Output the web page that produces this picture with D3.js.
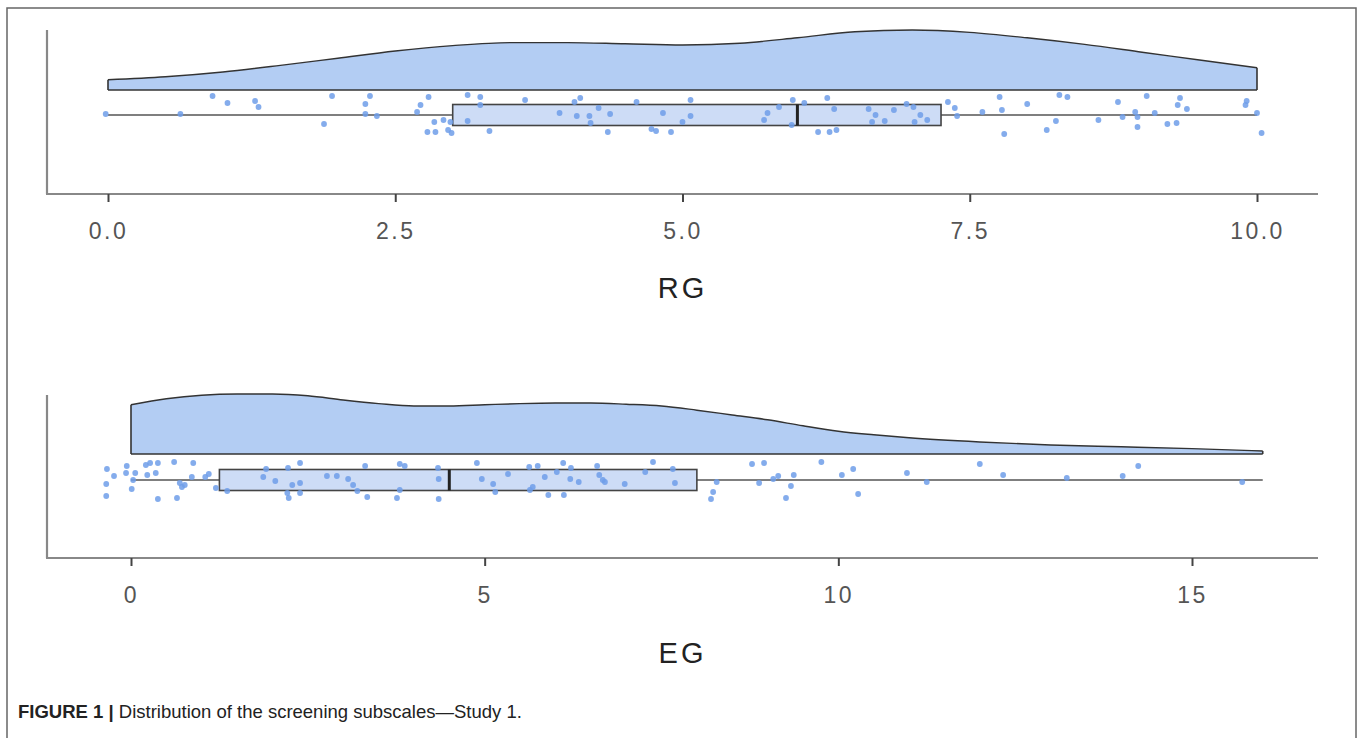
<!DOCTYPE html>
<html><head><meta charset="utf-8">
<script src="https://cdn.jsdelivr.net/npm/d3@7"></script>
<style>body{margin:0;background:#fff}svg{display:block}</style>
</head><body>
<script>
// ---------- DATA ----------
const rgTicks = [0, 2.5, 5, 7.5, 10];
const rgTickLabels = ["0.0", "2.5", "5.0", "7.5", "10.0"];
const rgDensityX = [0,0.5,1,1.5,2,2.5,3,3.5,4,4.5,5,5.5,6,6.5,7,7.5,8,8.5,9,9.5,10];
const rgDensity  = [0.17,0.22,0.30,0.41,0.53,0.65,0.74,0.79,0.79,0.77,0.75,0.78,0.87,0.97,1.0,0.96,0.87,0.76,0.63,0.5,0.37];
const rgBox = {min:0, q1:3.0, median:6.0, q3:7.25, max:10};
const rgValues = [-0.02,0.63,0.91,1.04,1.28,1.31,1.95,1.88,2.28,2.24,2.24,2.34,2.79,2.72,2.69,2.84,2.92,2.78,2.85,2.96,2.99,2.98,3.13,3.24,3.24,3.13,3.32,3.63,3.93,4.06,4.11,4.08,4.19,4.20,4.27,4.37,4.35,4.60,4.73,4.77,4.90,4.83,5.07,5.07,5.00,5.74,5.71,5.84,5.96,6.06,5.95,6.18,6.28,6.34,6.26,6.32,6.62,6.68,6.65,6.76,6.84,6.95,7.01,7.02,7.07,7.13,7.31,7.37,7.39,7.61,7.76,7.78,7.80,8.00,8.17,8.25,8.28,8.35,8.62,8.79,8.83,8.94,8.96,8.96,9.04,9.11,9.22,9.30,9.33,9.31,9.39,9.91,9.90,10.0,10.04];
const rgJitter = [-0.05,-0.05,-0.95,-0.6,-0.7,-0.4,-0.95,0.45,-0.95,-0.55,-0.05,0.05,-0.9,-0.5,-0.15,0.35,0.25,0.85,0.85,0.75,0.9,0.35,-1.0,-0.9,-0.5,0.3,0.8,-0.75,-0.1,-0.65,-0.85,0.05,0.05,0.4,-0.35,-0.05,0.85,-0.65,0.7,0.8,0.85,-0.1,-0.75,0.05,0.35,-0.1,0.25,-0.4,-0.75,-0.6,0.5,0.85,0.85,0.75,-0.85,-0.3,-0.3,0.0,0.35,0.3,-0.25,-0.55,-0.4,0.35,0.0,0.25,-0.65,-0.35,0.05,-0.15,-0.9,-0.25,0.95,-0.55,0.75,0.3,-1.0,-0.9,0.25,-0.65,0.1,-0.15,0.1,0.6,-0.95,-0.1,0.45,0.4,-0.85,-0.5,-0.3,-0.7,-0.5,-0.1,0.9];
const egTicks = [0, 5, 10, 15];
const egTickLabels = ["0", "5", "10", "15"];
const egDensityX = [0,0.5,1,1.5,2,2.5,3,3.5,4,4.5,5,5.5,6,6.5,7,7.5,8,8.5,9,9.5,10,10.5,11,12,13,14,15,16];
const egDensity  = [0.82,0.92,0.98,1.0,1.0,0.97,0.90,0.84,0.80,0.80,0.82,0.84,0.85,0.85,0.83,0.80,0.73,0.65,0.57,0.47,0.38,0.32,0.27,0.20,0.15,0.12,0.09,0.05];
const egBox = {min:0, q1:1.25, median:4.5, q3:8.0, max:16};
const egValues = [-0.34,-0.24,-0.35,-0.35,-0.06,-0.07,0.06,0.03,0.01,0.21,0.27,0.38,0.23,0.35,0.61,0.88,0.86,0.69,0.76,0.72,1.05,1.10,0.38,0.65,1.20,1.36,1.87,1.91,2.04,2.22,2.39,2.28,2.39,2.21,2.23,2.39,2.77,2.91,3.07,3.14,3.20,3.34,3.31,3.80,3.87,3.80,3.76,4.34,4.35,4.35,4.89,4.96,5.12,5.15,5.33,5.63,5.75,5.64,5.68,5.90,5.85,6.02,6.11,6.22,6.21,6.33,6.12,6.59,6.62,6.67,6.70,6.98,7.27,7.38,7.66,7.69,8.28,8.23,8.20,8.78,8.95,8.88,9.08,9.15,9.33,9.37,9.26,9.76,10.05,10.21,10.28,10.97,11.25,12.00,12.33,13.23,14.02,14.24,15.71];
const egJitter = [-0.55,-0.2,0.2,0.8,-0.7,-0.35,-0.35,0.0,0.45,-0.75,-0.85,-0.85,-0.25,-0.35,-0.9,-0.85,-0.15,0.15,0.25,0.35,-0.15,-0.3,0.95,0.9,0.4,0.55,-0.15,-0.55,0.05,-0.6,-0.85,0.25,0.15,0.65,0.9,0.65,-0.2,-0.2,-0.05,0.25,0.55,0.85,-0.7,-0.8,-0.7,0.5,0.9,-0.6,-0.05,0.95,-0.85,-0.05,0.2,0.6,-0.3,-0.65,-0.7,0.5,0.35,0.75,-0.15,-0.4,-0.85,-0.6,-0.05,0.1,0.75,-0.7,-0.25,0.0,0.1,0.2,-0.4,-0.9,-0.55,0.15,0.1,0.6,0.95,-0.8,-0.85,0.15,-0.05,-0.2,0.3,-0.25,0.9,-0.9,-0.25,-0.55,0.7,-0.35,0.1,-0.8,-0.25,-0.1,-0.2,-0.7,0.1];
const captionBold = "FIGURE 1 |";
const captionText = " Distribution of the screening subscales\u2014Study 1.";

// ---------- DRAW ----------
const W = 1358, H = 738;
const svg = d3.select("body").append("svg").attr("width", W).attr("height", H);
svg.append("rect").attr("x", 7).attr("y", 8).attr("width", 1349).attr("height", 760)
  .attr("fill", "none").attr("stroke", "#666").attr("stroke-width", 1.5);

const fontTick = "Liberation Sans, Arial, sans-serif";

function panel(cfg) {
  const g = svg.append("g");
  const x = d3.scaleLinear().domain(cfg.domainRef).range(cfg.rangeRef);
  const yDen = d3.scaleLinear().domain([0, 1]).range([cfg.base, cfg.base - 60]);
  const yJit = d3.scaleLinear().domain([-1, 1]).range([cfg.center - 20, cfg.center + 20]);

  // density
  const pts = cfg.dx.map((v, i) => [v, cfg.dy[i]]);
  const area = d3.area().x(d => x(d[0])).y0(yDen(0)).y1(d => yDen(d[1])).curve(d3.curveMonotoneX);
  g.append("path").datum(pts).attr("d", area).attr("fill", "#b3cdf3").attr("stroke", "none");
  const outline = d3.line().x(d => x(d[0])).y(d => yDen(d[1])).curve(d3.curveMonotoneX);
  g.append("path").datum(pts).attr("d", outline).attr("fill", "none").attr("stroke", "#333").attr("stroke-width", 1.4);
  g.append("line").attr("x1", x(cfg.dx[0])).attr("x2", x(cfg.dx[cfg.dx.length-1]))
    .attr("y1", yDen(0)).attr("y2", yDen(0)).attr("stroke", "#333").attr("stroke-width", 1.6);
  g.append("line").attr("x1", x(cfg.dx[0])).attr("x2", x(cfg.dx[0]))
    .attr("y1", yDen(0)).attr("y2", yDen(cfg.dy[0])).attr("stroke", "#333").attr("stroke-width", 1.6);
  const li = cfg.dx.length - 1;
  g.append("line").attr("x1", x(cfg.dx[li])).attr("x2", x(cfg.dx[li]))
    .attr("y1", yDen(0)).attr("y2", yDen(cfg.dy[li])).attr("stroke", "#333").attr("stroke-width", 1.6);

  // whisker
  g.append("line").attr("x1", x(cfg.box.min)).attr("x2", x(cfg.box.max))
    .attr("y1", cfg.center).attr("y2", cfg.center).attr("stroke", "#555").attr("stroke-width", 1.6);
  // box
  g.append("rect").attr("x", x(cfg.box.q1)).attr("y", cfg.center - 10.5)
    .attr("width", x(cfg.box.q3) - x(cfg.box.q1)).attr("height", 21)
    .attr("fill", "#cddcf6").attr("stroke", "#444").attr("stroke-width", 1.6);
  g.append("line").attr("x1", x(cfg.box.median)).attr("x2", x(cfg.box.median))
    .attr("y1", cfg.center - 10.5).attr("y2", cfg.center + 10.5).attr("stroke", "#222").attr("stroke-width", 3);

  // points
  g.selectAll("circle.pt").data(cfg.values).join("circle").attr("class", "pt")
    .attr("cx", d => x(d)).attr("cy", (d, i) => yJit(cfg.jitter[i])).attr("r", 2.9)
    .attr("fill", "#6f9de9").attr("fill-opacity", 0.85);

  // axes frame
  g.append("line").attr("x1", 47).attr("x2", 47).attr("y1", cfg.axisTop).attr("y2", cfg.axisY)
    .attr("stroke", "#888").attr("stroke-width", 2.2);
  g.append("line").attr("x1", 46).attr("x2", 1318).attr("y1", cfg.axisY).attr("y2", cfg.axisY)
    .attr("stroke", "#888").attr("stroke-width", 2.2);

  const axis = d3.axisBottom(x).tickValues(cfg.ticks).tickFormat((d, i) => cfg.tickLabels[i])
    .tickSize(8).tickPadding(21);
  const ag = g.append("g").attr("transform", `translate(0,${cfg.axisY})`).call(axis);
  ag.select(".domain").remove();
  ag.selectAll(".tick line").attr("stroke", "#444").attr("stroke-width", 2);
  ag.selectAll(".tick text").attr("fill", "#555").attr("font-size", 23)
    .attr("letter-spacing", 2.5).attr("font-family", fontTick);

  g.append("text").attr("x", (47 + 1318) / 2).attr("y", cfg.titleY).attr("text-anchor", "middle")
    .attr("font-family", fontTick).attr("font-size", 29).attr("letter-spacing", 3)
    .attr("fill", "#222").text(cfg.title);
}

panel({domainRef:[0,10], rangeRef:[108,1257], base:90, center:115, axisTop:30, axisY:194,
  dx: rgDensityX, dy: rgDensity, box: rgBox, values: rgValues, jitter: rgJitter,
  ticks: rgTicks, tickLabels: rgTickLabels, title: "RG", titleY: 298});
panel({domainRef:[0,15], rangeRef:[131,1192], base:454, center:480, axisTop:395, axisY:558,
  dx: egDensityX, dy: egDensity, box: egBox, values: egValues, jitter: egJitter,
  ticks: egTicks, tickLabels: egTickLabels, title: "EG", titleY: 663});

const cap = svg.append("text").attr("x", 18).attr("y", 718)
  .attr("font-family", "Liberation Sans, Arial, sans-serif").attr("font-size", 18.5).attr("fill", "#222");
cap.append("tspan").attr("font-weight", "bold").text(captionBold);
cap.append("tspan").text(captionText);
</script>
</body></html>
